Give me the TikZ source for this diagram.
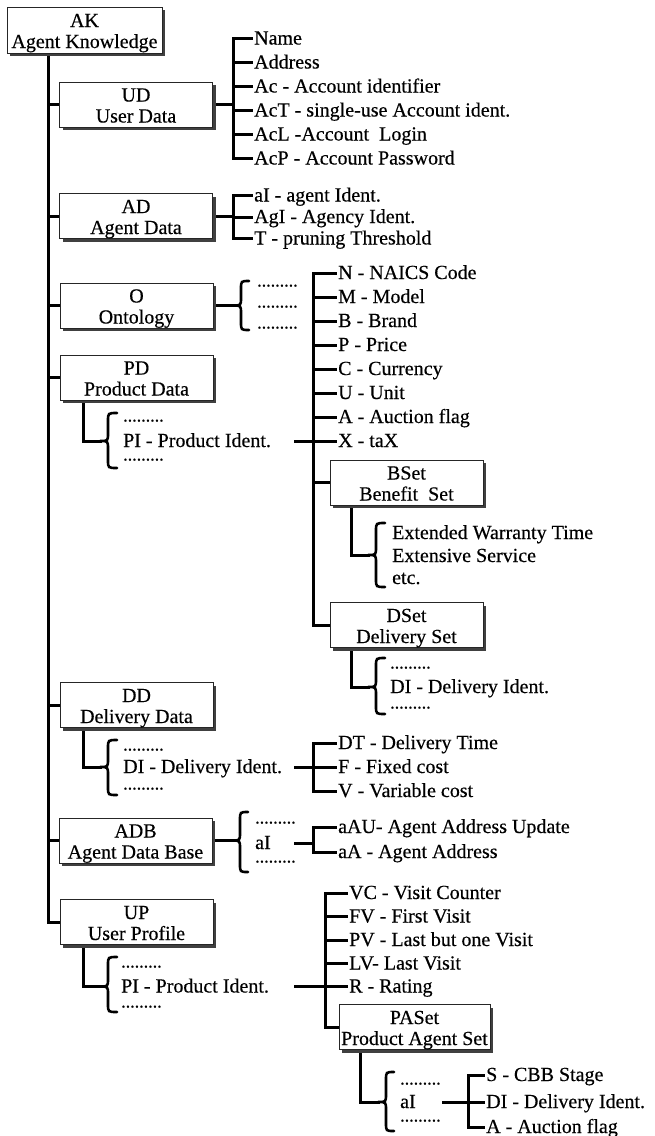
\documentclass[tikz,border=0pt]{standalone}
\usepackage{fontspec}
\setmainfont{Liberation Serif}[FakeBold=0.4]
\usetikzlibrary{shadows}
\pgfdeclarelayer{bg}
\pgfsetlayers{bg,main}
% #1 name of tip, #2 x tip, #3 x stem, #4 x ends, #5 y top, #6 y tip, #7 y bottom
\newcommand\mybrace[7]{%
  \coordinate (#1) at (#2,#6);
  \draw[brc] (#4,#5) .. controls (#3,#5) .. (#3,#5+8) -- (#3,#6-8)
    .. controls (#3,#6) .. (#2,#6) .. controls (#3,#6) .. (#3,#6+8)
    -- (#3,#7-8) .. controls (#3,#7) .. (#4,#7);}
\begin{document}
\begin{tikzpicture}[x=1pt,y=-1pt,
  every node/.style={font=\fontsize{20}{21}\selectfont},
  box/.style={draw=black!85, line width=0.9pt, fill=white,
    minimum width=153pt, minimum height=45pt, align=center,
    text height=36pt, text depth=0pt, inner sep=0pt,
    drop shadow={shadow xshift=3pt, shadow yshift=-3pt, fill=black!75, opacity=1}},
  leaf/.style={anchor=west, inner xsep=3pt, inner ysep=0pt, text height=12pt, text depth=0pt},
  dots/.style={anchor=base west, inner sep=0pt, font=\fontsize{18}{18}\selectfont},
  tree/.style={line width=3pt, line cap=rect},
  brc/.style={line width=2.6pt, line cap=round}]
\useasboundingbox (0,0) rectangle (655,1136);

% helper coordinates
\coordinate (tr) at (48,0);
\coordinate (bUD) at (233,0);
\coordinate (bPD) at (313,0);
\coordinate (bUP) at (325,0);
\coordinate (bPA) at (468,0);
\coordinate (c1) at (83,0);
\coordinate (c2) at (351,0);
\coordinate (c3) at (360,0);
\coordinate (lx) at (295,0);
\coordinate (lx2) at (443,0);

% boxes
\node[box, minimum width=155pt, minimum height=46pt] (AK) at (84.5,30) {AK\\Agent Knowledge};
\node[box] (UD) at (136,104.5) {UD\\User Data};
\node[box] (AD) at (136,216) {AD\\Agent Data};
\node[box] (O) at (136.5,305.5) {O\\Ontology};
\node[box] (PD) at (136.5,377.5) {PD\\Product Data};
\node[box] (DD) at (136.5,705) {DD\\Delivery Data};
\node[box] (ADB) at (135.5,840.5) {ADB\\Agent Data Base};
\node[box] (UP) at (136.5,922) {UP\\User Profile};
\node[box] (BSet) at (406.5,482.5) {BSet\\Benefit~ Set};
\node[box] (DSet) at (406.5,625) {DSet\\Delivery Set};
\node[box, minimum width=151pt] (PASet) at (414.5,1027) {PASet\\Product Agent Set};

% UD leaves
\node[leaf] (ud1) at (251,38.5) {Name};
\node[leaf] (ud2) at (251,62.5) {Address};
\node[leaf] (ud3) at (251,86.5) {Ac - Account identifier};
\node[leaf] (ud4) at (251,110.5) {AcT - single-use Account ident.};
\node[leaf] (ud5) at (251,134.5) {AcL -Account~ Login};
\node[leaf] (ud6) at (251,158.5) {AcP - Account Password};
% AD leaves
\node[leaf] (ad1) at (251,195.5) {aI - agent Ident.};
\node[leaf] (ad2) at (251,217) {AgI - Agency Ident.};
\node[leaf] (ad3) at (251,238.5) {T - pruning Threshold};
% O
\node[dots] (od1) at (257,286.5) {.........};
\node[dots] (od2) at (257,307.5) {.........};
\node[dots] (od3) at (257,328.5) {.........};
% PD
\node[dots] (pdd1) at (123,421.5) {.........};
\node[leaf] (PI1) at (120,441) {PI - Product Ident.};
\node[dots] (pdd2) at (123,460.5) {.........};
\node[leaf] (pd1) at (335,273) {N - NAICS Code};
\node[leaf] (pd2) at (335,297) {M - Model};
\node[leaf] (pd3) at (335,321) {B - Brand};
\node[leaf] (pd4) at (335,345) {P - Price};
\node[leaf] (pd5) at (335,369) {C - Currency};
\node[leaf] (pd6) at (335,393) {U - Unit};
\node[leaf] (pd7) at (335,417) {A - Auction flag};
\node[leaf] (pd8) at (335,441) {X - taX};
% BSet
\node[leaf] (bs1) at (389,533) {Extended Warranty Time};
\node[leaf] (bs2) at (389,556) {Extensive Service};
\node[leaf] (bs3) at (389,578) {etc.};
% DSet
\node[dots] (dsd1) at (390,668.5) {.........};
\node[leaf] (ds1) at (387,687) {DI - Delivery Ident.};
\node[dots] (dsd2) at (390,708.5) {.........};
% DD
\node[dots] (ddd1) at (123,750.5) {.........};
\node[leaf] (DI2) at (120,767) {DI - Delivery Ident.};
\node[dots] (ddd2) at (123,789.5) {.........};
\node[leaf] (dd1) at (335,743) {DT - Delivery Time};
\node[leaf] (dd2) at (335,767) {F - Fixed cost};
\node[leaf] (dd3) at (335,791) {V - Variable cost};
% ADB
\node[dots] (adbd1) at (255,823.5) {.........};
\node[leaf] (aI1) at (252,843) {aI};
\node[dots] (adbd2) at (255,862.5) {.........};
\node[leaf] (adb1) at (335,827) {aAU- Agent Address Update};
\node[leaf] (adb2) at (335,852) {aA - Agent Address};
% UP
\node[dots] (upd1) at (121,967.5) {.........};
\node[leaf] (PI2) at (118,986.5) {PI - Product Ident.};
\node[dots] (upd2) at (121,1007.5) {.........};
\node[leaf] (up1) at (346,893) {VC - Visit Counter};
\node[leaf] (up2) at (346,916.5) {FV - First Visit};
\node[leaf] (up3) at (346,940) {PV - Last but one Visit};
\node[leaf] (up4) at (346,963.5) {LV- Last Visit};
\node[leaf] (up5) at (346,986.5) {R - Rating};
% PASet
\node[dots] (pad1) at (400,1084.5) {.........};
\node[leaf] (aI2) at (397,1102) {aI};
\node[dots] (pad2) at (400,1121.5) {.........};
\node[leaf] (pa1) at (483,1075) {S - CBB Stage};
\node[leaf] (pa2) at (483,1102) {DI - Delivery Ident.};
\node[leaf] (pa3) at (483,1127) {A - Auction flag};

% braces
\mybrace{Ob}{233}{241}{249}{281}{305.5}{330}
\mybrace{PDb}{100}{108}{117}{413}{441}{468}
\mybrace{Bb}{368}{376}{385}{523}{555}{587}
\mybrace{Db}{368}{376}{385}{658}{687}{714}
\mybrace{DDb}{100}{108}{117}{740}{767}{795}
\mybrace{ADBb}{232}{240}{248}{812}{840.5}{872}
\mybrace{UPb}{100}{108}{117}{957}{986.5}{1012}
\mybrace{PAb}{378}{386}{394}{1072}{1102}{1131}

\begin{pgfonlayer}{bg}
% trunk
\draw[tree] (AK.south -| tr) |- (UP.west);
\foreach \n in {UD,AD,O,PD,DD,ADB} \draw[tree] (\n.west -| tr) -- (\n.west);
% UD
\draw[tree] (UD.east) -- (UD.east -| bUD);
\draw[tree] (ud1.west -| bUD) -- (ud6.west -| bUD);
\foreach \n in {ud1,ud2,ud3,ud4,ud5,ud6} \draw[tree] (\n.west -| bUD) -- (\n.west);
% AD
\draw[tree] (AD.east) -- (AD.east -| bUD);
\draw[tree] (ad1.west -| bUD) -- (ad3.west -| bUD);
\foreach \n in {ad1,ad2,ad3} \draw[tree] (\n.west -| bUD) -- (\n.west);
% O
\draw[tree] (O.east) -- (Ob);
% PD
\draw[tree] (PD.south -| c1) |- (PDb);
\draw[tree] (PI1.east -| lx) -- (PI1.east -| bPD);
\draw[tree] (pd1.west -| bPD) |- (DSet.west);
\draw[tree] (BSet.west -| bPD) -- (BSet.west);
\foreach \n in {pd1,pd2,pd3,pd4,pd5,pd6,pd7,pd8} \draw[tree] (\n.west -| bPD) -- (\n.west);
% BSet, DSet
\draw[tree] (BSet.south -| c2) |- (Bb);
\draw[tree] (DSet.south -| c2) |- (Db);
% DD
\draw[tree] (DD.south -| c1) |- (DDb);
\draw[tree] (DI2.east -| lx) -- (DI2.east -| bPD);
\draw[tree] (dd1.west -| bPD) -- (dd3.west -| bPD);
\foreach \n in {dd1,dd2,dd3} \draw[tree] (\n.west -| bPD) -- (\n.west);
% ADB
\draw[tree] (ADB.east) -- (ADBb);
\draw[tree] (aI1.east -| lx) -- (aI1.east -| bPD);
\draw[tree] (adb1.west -| bPD) -- (adb2.west -| bPD);
\foreach \n in {adb1,adb2} \draw[tree] (\n.west -| bPD) -- (\n.west);
% UP
\draw[tree] (UP.south -| c1) |- (UPb);
\draw[tree] (PI2.east -| lx) -- (PI2.east -| bUP);
\draw[tree] (up1.west -| bUP) |- (PASet.west);
\foreach \n in {up1,up2,up3,up4,up5} \draw[tree] (\n.west -| bUP) -- (\n.west);
% PASet
\draw[tree] (PASet.south -| c3) |- (PAb);
\draw[tree] (aI2.east -| lx2) -- (aI2.east -| bPA);
\draw[tree] (pa1.west -| bPA) -- (pa3.west -| bPA);
\foreach \n in {pa1,pa2,pa3} \draw[tree] (\n.west -| bPA) -- (\n.west);
\end{pgfonlayer}
\end{tikzpicture}
\end{document}
